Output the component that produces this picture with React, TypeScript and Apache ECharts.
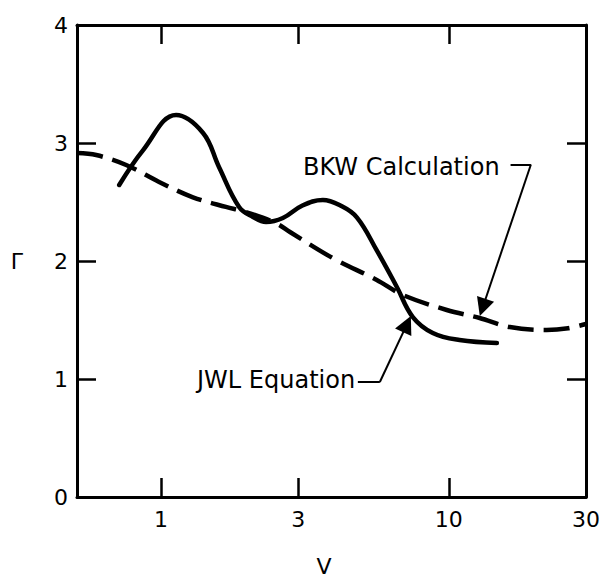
import React, { useEffect, useRef } from "react";
import * as echarts from "echarts";

const FONT = '"DejaVu Sans", "Liberation Sans", sans-serif';

// Tick marks and labels on the specific-volume axis
const vTickValues = [1, 3, 10];
const vLabelValues = [1, 3, 10, 30];

// JWL equation: Γ against V
const jwlV = [0.715, 0.866, 1.127, 1.399, 1.589, 1.867, 2.087, 2.316, 2.65, 3.1, 3.65, 4.2, 4.79, 5.62, 6.6, 7.5, 8.8, 10.9, 14.7];
const jwlGamma = [2.644, 2.94, 3.237, 3.085, 2.797, 2.458, 2.373, 2.33, 2.364, 2.47, 2.517, 2.47, 2.37, 2.09, 1.78, 1.525, 1.39, 1.33, 1.305];

// BKW calculation: Γ against V
const bkwV = [0.51, 0.595, 0.756, 0.984, 1.29, 1.68, 1.97, 2.51, 2.805, 3.95, 5.62, 6.92, 9.84, 12.8, 16.3, 21.9, 26, 30];
const bkwGamma = [2.915, 2.898, 2.814, 2.67, 2.54, 2.458, 2.415, 2.32, 2.246, 2.025, 1.839, 1.712, 1.585, 1.517, 1.44, 1.415, 1.43, 1.466];

// Leader lines in data coordinates: short horizontal tail, then the arrow shaft.
// The arrowhead is centred on the shaft's end, so the end sits half a head short of the curve.
const bkwTail = [[16.4, 2.818], [19.3, 2.818]];
const bkwArrow = [[19.3, 2.818], [13.12, 1.606]];
const jwlTail = [[4.83, 0.975], [5.76, 0.975]];
const jwlArrow = [[5.76, 0.975], [7.16, 1.465]];

const zip = (xs: number[], ys: number[]) => xs.map((x, i) => [x, ys[i]]);

export default function App() {
  const ref = useRef<HTMLDivElement>(null);

  useEffect(() => {
    if (!ref.current) return;
    const chart = echarts.init(ref.current, null, { renderer: "svg" });

    const axisLine = { show: true, onZero: false, lineStyle: { color: "#000", width: 3 } };
    const tick = (vals: number[]) => ({
      show: true,
      inside: true,
      length: 19,
      lineStyle: { color: "#000", width: 2.5 },
      customValues: vals,
    });
    const labelStyle = { color: "#000", fontSize: 22, fontFamily: FONT };

    const xBase = {
      type: "log" as const,
      logBase: 10,
      min: 0.51,
      max: 30,
      axisLine,
      splitLine: { show: false },
    };
    const yBase = {
      type: "value" as const,
      min: 0,
      max: 4,
      interval: 1,
      axisLine,
      splitLine: { show: false },
    };

    const leader = { color: "#000", width: 2, opacity: 1, curveness: 0 };

    chart.setOption({
      animation: false,
      backgroundColor: "#fff",
      grid: { left: 77, right: 15, top: 25, bottom: 81, containLabel: false, outerBoundsMode: "none" },
      xAxis: [
        {
          ...xBase,
          position: "bottom",
          axisTick: tick(vTickValues),
          axisLabel: { ...labelStyle, margin: 11, customValues: vLabelValues, formatter: (v: number) => String(v) },
          name: "V",
          nameLocation: "middle",
          nameGap: 58,
          nameTextStyle: { ...labelStyle, padding: [0, 15, 0, 0] },
        },
        {
          ...xBase,
          position: "top",
          axisTick: tick(vTickValues),
          axisLabel: { show: false },
        },
      ],
      yAxis: [
        {
          ...yBase,
          position: "left",
          axisTick: tick([1, 2, 3]),
          axisLabel: { ...labelStyle, margin: 9 },
          name: "Γ",
          nameLocation: "middle",
          nameGap: 54,
          nameRotate: 0,
          nameTextStyle: { ...labelStyle, padding: [10, 0, 0, 0] },
        },
        {
          ...yBase,
          position: "right",
          axisTick: tick([1, 2, 3]),
          axisLabel: { show: false },
        },
      ],
      series: [
        {
          name: "BKW Calculation",
          type: "line",
          data: zip(bkwV, bkwGamma),
          smooth: 0.35,
          showSymbol: false,
          clip: true,
          lineStyle: { color: "#000", width: 4.5, type: [26, 10], cap: "butt" },
        },
        {
          name: "JWL Equation",
          type: "line",
          data: zip(jwlV, jwlGamma),
          smooth: 0.4,
          showSymbol: false,
          lineStyle: { color: "#000", width: 4.5, cap: "round" },
        },
        {
          type: "lines",
          coordinateSystem: "cartesian2d",
          symbol: ["none", "none"],
          lineStyle: leader,
          data: [{ coords: bkwTail }, { coords: jwlTail }],
        },
        {
          type: "lines",
          coordinateSystem: "cartesian2d",
          symbol: ["none", "triangle"],
          symbolSize: [9, 18],
          lineStyle: leader,
          itemStyle: { color: "#000" },
          data: [{ coords: bkwArrow }, { coords: jwlArrow }],
        },
      ],
      graphic: [
        {
          type: "text",
          x: 303,
          y: 167,
          style: { text: "BKW Calculation", fill: "#000", fontSize: 24, fontFamily: FONT, verticalAlign: "middle", align: "left" },
        },
        {
          type: "text",
          x: 197,
          y: 380,
          style: { text: "JWL Equation", fill: "#000", fontSize: 24, fontFamily: FONT, verticalAlign: "middle", align: "left" },
        },
      ],
    });

    return () => chart.dispose();
  }, []);

  return (
    <div
      ref={ref}
      style={{ position: "fixed", left: 0, top: 0, width: 601, height: 578, background: "#fff" }}
    />
  );
}
